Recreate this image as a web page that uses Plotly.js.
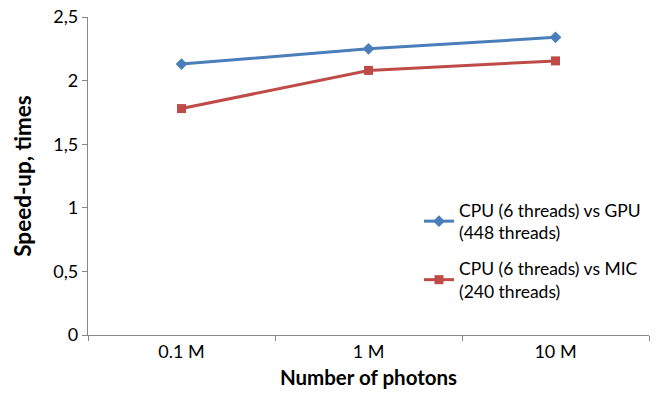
<!DOCTYPE html>
<html><head><meta charset="utf-8">
<script src="https://cdn.plot.ly/plotly-3.0.1.min.js"></script>
<style>body{margin:0;padding:0;background:#fff}#chart{width:657px;height:393px}</style>
</head><body><div id="chart"></div>
<script>
var categories = ["0.1 M", "1 M", "10 M"];
var gpuValues = [2.13, 2.25, 2.34];
var micValues = [1.78, 2.08, 2.155];
var seriesNames = ["CPU (6 threads) vs GPU<br>(448 threads)", "CPU (6 threads) vs MIC<br>(240 threads)"];
var yTickVals = [0, 0.5, 1, 1.5, 2, 2.5];
var yTickText = ["0", "0,5", "1", "1,5", "2", "2,5"];

var font = "Lato, 'Open Sans', sans-serif";
var data = [
  {x: categories, y: gpuValues, name: seriesNames[0], legendgroup: "g1", type: "scatter", mode: "lines+markers",
   line: {color: "#4A7EBB", width: 3}, marker: {symbol: "diamond", size: 9, color: "#4A7EBB"}},
  {x: categories, y: micValues, name: seriesNames[1], legendgroup: "g2", type: "scatter", mode: "lines+markers",
   line: {color: "#BE4B48", width: 3}, marker: {symbol: "square", size: 9, color: "#BE4B48"}}
];
var layout = {
  width: 657, height: 393,
  margin: {l: 88, r: 8, t: 17, b: 58},
  paper_bgcolor: "#fff", plot_bgcolor: "#fff",
  font: {family: font, size: 18, color: "#000"},
  showlegend: true,
  legend: {x: 0.59, y: 0.45, xanchor: "left", yanchor: "top", font: {family: font, size: 17.5, color: "#000"},
           bgcolor: "rgba(0,0,0,0)", traceorder: "grouped", tracegroupgap: 10, itemwidth: 30},
  xaxis: {type: "category", range: [-0.5, 2.5], showgrid: false, zeroline: false,
          showline: true, linecolor: "#888", linewidth: 1.3, ticks: "outside", tickson: "boundaries",
          ticklen: 5, tickcolor: "#888", tickfont: {family: font, size: 18},
          title: {text: "<b>Number of photons</b>", font: {family: font, size: 20.5}, standoff: 9}},
  yaxis: {range: [0, 2.5], tickvals: yTickVals, ticktext: yTickText, showgrid: false, zeroline: false,
          showline: true, linecolor: "#888", linewidth: 1.3, ticks: "outside", ticklen: 5, tickcolor: "#888",
          tickfont: {family: font, size: 18},
          title: {text: "<b>Speed-up, times</b>", font: {family: font, size: 22.5}, standoff: 15}}
};
Plotly.newPlot("chart", data, layout, {displayModeBar: false});
</script></body></html>
